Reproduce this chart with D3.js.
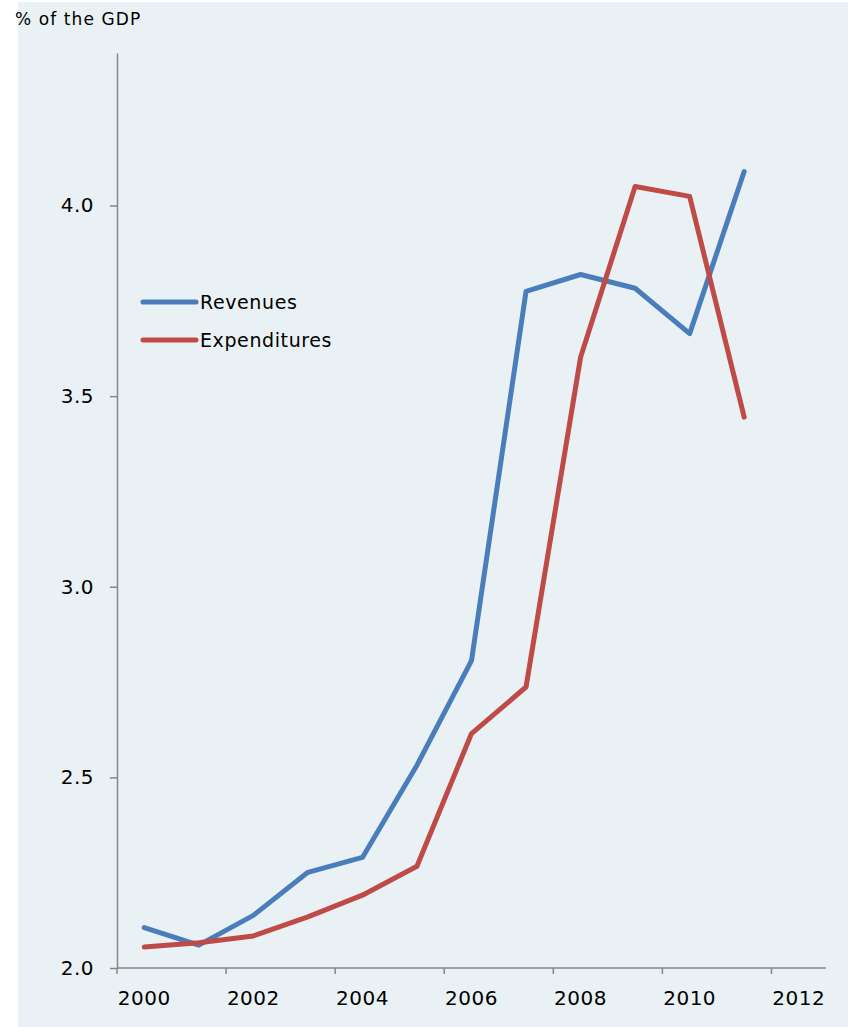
<!DOCTYPE html>
<html>
<head>
<meta charset="utf-8">
<script src="https://cdn.jsdelivr.net/npm/d3@7"></script>
<style>
  html, body { margin: 0; padding: 0; background: #ffffff; }
  svg { display: block; }
  text { font-family: "DejaVu Sans", Verdana, sans-serif; fill: #000; }
</style>
</head>
<body>
<svg id="chart" width="852" height="1027"></svg>
<script>
// Fiscal balance as a share of GDP, 2000–2011
const years = [2000, 2001, 2002, 2003, 2004, 2005, 2006, 2007, 2008, 2009, 2010, 2011];
const axisYears = [2000, 2001, 2002, 2003, 2004, 2005, 2006, 2007, 2008, 2009, 2010, 2011, 2012];
const revenues = [2.106, 2.060, 2.138, 2.251, 2.290, 2.532, 2.806, 3.775, 3.819, 3.783, 3.664, 4.089];
const expenditures = [2.055, 2.066, 2.084, 2.134, 2.191, 2.267, 2.615, 2.737, 3.602, 4.050, 4.024, 3.445];
const yTicks = [2.0, 2.5, 3.0, 3.5, 4.0];
const xTickLabels = [2000, 2002, 2004, 2006, 2008, 2010, 2012];
const seriesNames = ["Revenues", "Expenditures"];
const seriesColors = ["#4a7ebb", "#be4b48"];

const svg = d3.select("#chart");

// panel background
svg.append("rect")
  .attr("x", 18).attr("y", 2)
  .attr("width", 830).attr("height", 1025)
  .attr("fill", "#eaf1f5");

svg.append("text")
  .attr("x", 15).attr("y", 25)
  .style("font-size", "17px")
  .style("letter-spacing", "1.1px")
  .text("% of the GDP");

const plot = { left: 117, right: 826, top: 53, bottom: 968 };

// category band per year; points sit in the middle of each band
const x = d3.scaleBand()
  .domain(axisYears)
  .range([plot.left, plot.right])
  .padding(0);

const y = d3.scaleLinear()
  .domain([2.0, 4.4])
  .range([plot.bottom, plot.top]);

const axisColor = "#868686";

// y axis
const yAxis = d3.axisLeft(y)
  .tickValues(yTicks)
  .tickFormat(d3.format(".1f"))
  .tickSizeInner(7)
  .tickSizeOuter(0)
  .tickPadding(16);

const gy = svg.append("g")
  .attr("transform", `translate(${plot.left},0)`)
  .call(yAxis);
gy.select(".domain").attr("stroke", axisColor).attr("stroke-width", 1.5);
gy.selectAll(".tick line").attr("stroke", axisColor).attr("stroke-width", 1.5);
gy.selectAll(".tick text")
  .style("font-size", "20px")
  .style("letter-spacing", "0.5px")
  .style("font-family", "'DejaVu Sans', Verdana, sans-serif")
  .attr("fill", "#000");

// x axis: ticks sit between categories, labels centred on each year band
const gx = svg.append("g")
  .attr("transform", `translate(0,${plot.bottom})`);
gx.append("line")
  .attr("x1", plot.left).attr("x2", plot.right)
  .attr("y1", 0).attr("y2", 0)
  .attr("stroke", axisColor).attr("stroke-width", 1.5);
gx.selectAll("line.tick")
  .data(xTickLabels)
  .join("line")
  .attr("class", "tick")
  .attr("x1", d => x(d)).attr("x2", d => x(d))
  .attr("y1", 0).attr("y2", 6)
  .attr("stroke", axisColor).attr("stroke-width", 1.5);
gx.selectAll("text")
  .data(xTickLabels)
  .join("text")
  .attr("x", d => x(d) + x.bandwidth() / 2)
  .attr("y", 37)
  .attr("text-anchor", "middle")
  .style("font-size", "20px")
  .style("letter-spacing", "0.5px")
  .text(d => d);

// lines
const line = d3.line()
  .x((d, i) => x(years[i]) + x.bandwidth() / 2)
  .y(d => y(d));

[revenues, expenditures].forEach((vals, k) => {
  svg.append("path")
    .datum(vals)
    .attr("fill", "none")
    .attr("stroke", seriesColors[k])
    .attr("stroke-width", 5)
    .attr("stroke-linejoin", "round")
    .attr("stroke-linecap", "round")
    .attr("d", line);
});

// legend
const legend = svg.append("g").attr("transform", "translate(143,302)");
seriesNames.forEach((name, k) => {
  const g = legend.append("g").attr("transform", `translate(0,${k * 38})`);
  g.append("line")
    .attr("x1", 0).attr("x2", 53)
    .attr("y1", 0).attr("y2", 0)
    .attr("stroke", seriesColors[k])
    .attr("stroke-width", 5)
    .attr("stroke-linecap", "round");
  g.append("text")
    .attr("x", 57).attr("y", 7)
    .style("font-size", "19px")
    .style("letter-spacing", "0.6px")
    .text(name);
});
</script>
</body>
</html>
